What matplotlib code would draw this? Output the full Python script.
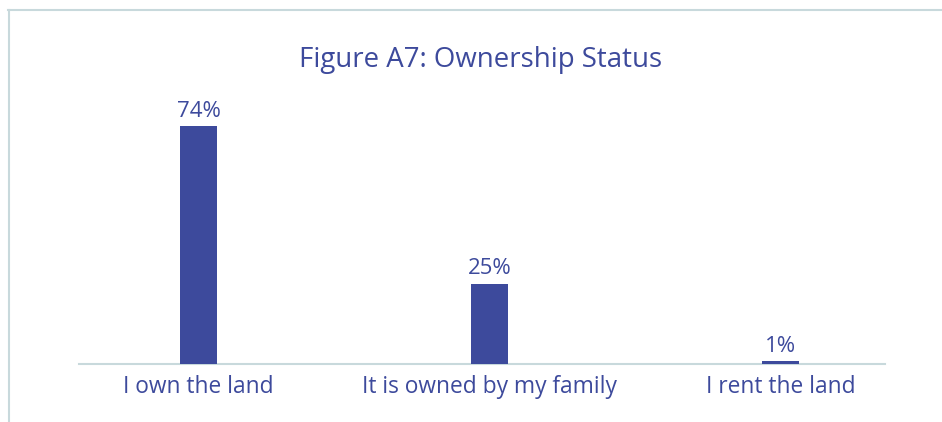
import matplotlib
matplotlib.use("Agg")
import matplotlib.pyplot as plt
from matplotlib.lines import Line2D

categories = ["I own the land", "It is owned by my family", "I rent the land"]
values = [74, 25, 1]
labels = ["74%", "25%", "1%"]
title = "Figure A7: Ownership Status"

bar_color = "#3D4A9C"
text_color = "#3D4A9C"
line_color = "#C8D9DC"

plt.rcParams['font.family'] = ['Open Sans', 'DejaVu Sans']

W, H = 942, 422
fig = plt.figure(figsize=(W / 100, H / 100), dpi=100)
fig.patch.set_facecolor("white")

ax = fig.add_axes([79 / W, 58 / H, 806 / W, 257.6 / H])
x = list(range(len(categories)))
ax.bar(x, values, width=0.127, color=bar_color, zorder=3)
ax.set_xlim(-0.4107, 2.359)
ax.set_ylim(0, 80)

for xi, v, lab in zip(x, values, labels):
    ax.annotate(lab, (xi, v), xytext=(0, 3), textcoords="offset points",
                ha="center", va="bottom", fontsize=16, color=text_color)

ax.set_xticks(x)
ax.set_xticklabels(categories, fontsize=16.4, color=text_color)
ax.tick_params(axis="x", length=0, pad=8)
ax.set_yticks([])
for s in ["top", "right", "left"]:
    ax.spines[s].set_visible(False)
ax.spines["bottom"].set_color(line_color)
ax.spines["bottom"].set_linewidth(1.5)

fig.text(480.5 / W, 1 - 60 / H, title, ha="center", va="center",
         fontsize=19.9, color=text_color)

# outer frame (left and top)
fig.add_artist(Line2D([8.5 / W, 8.5 / W], [0, 1 - 10 / H], transform=fig.transFigure,
                      color=line_color, linewidth=1.5))
fig.add_artist(Line2D([8 / W, 1], [1 - 10 / H, 1 - 10 / H], transform=fig.transFigure,
                      color=line_color, linewidth=1.5))

fig.savefig("out.png", dpi=100, facecolor="white")
